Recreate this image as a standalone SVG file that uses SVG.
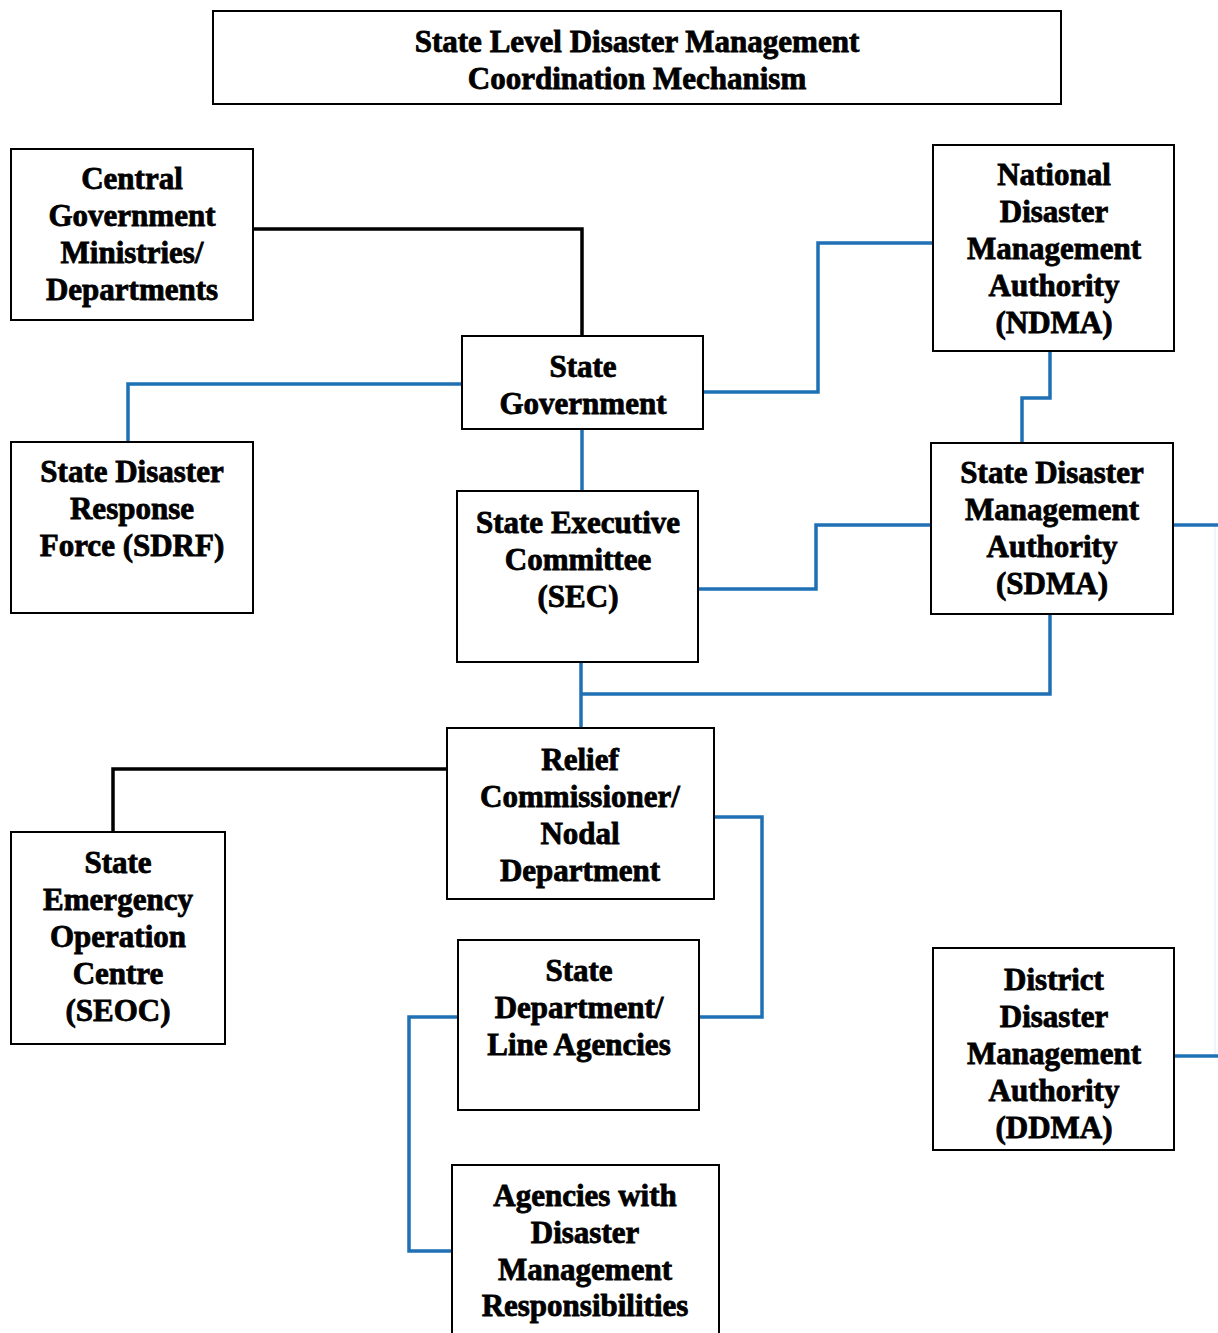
<svg xmlns="http://www.w3.org/2000/svg" width="1218" height="1333" viewBox="0 0 1218 1333">
<style>
.box{fill:#fff;stroke:#000;stroke-width:2}
.t{font-family:"Liberation Serif","Times New Roman",serif;font-weight:bold;font-size:31px;fill:#000;stroke:#000;stroke-width:0.8;text-anchor:middle}
.blue{fill:none;stroke:#1f70b5;stroke-width:3.5}
.black{fill:none;stroke:#000;stroke-width:3.5}
</style>
<rect width="1218" height="1333" fill="#fff"/>
<g id="connectors">
<path class="black" d="M253,229 H582 V336"/>
<path class="blue" d="M462,384 H128 V442"/>
<path class="blue" d="M703,392 H818 V243 H933"/>
<path class="blue" d="M582,429 V491"/>
<path class="blue" d="M1050,351 V398 H1022 V443"/>
<path class="blue" d="M698,589 H816 V525 H931"/>
<path class="blue" d="M581,662 V728"/>
<path class="blue" d="M581,694 H1050 V614"/>
<path class="blue" d="M1173,525 H1218"/>
<path class="blue" d="M1174,1056 H1218"/>
<path d="M1215,525 V1056" fill="none" stroke="#1f70b5" stroke-width="2" opacity="0.07"/>
<path class="black" d="M447,769 H113 V832"/>
<path class="blue" d="M714,817 H762 V1017 H699"/>
<path class="blue" d="M458,1017 H409 V1251 H452"/>
</g>
<g id="title">
<rect class="box" x="213" y="11" width="848" height="93"/>
<text class="t" x="637" y="52">State Level Disaster Management</text>
<text class="t" x="637" y="89">Coordination Mechanism</text>
</g>
<g id="central-gov">
<rect class="box" x="11" y="149" width="242" height="171"/>
<text class="t" x="132"><tspan x="132" y="189">Central</tspan><tspan x="132" y="226">Government</tspan><tspan x="132" y="263">Ministries/</tspan><tspan x="132" y="300">Departments</tspan></text>
</g>
<g id="ndma">
<rect class="box" x="933" y="145" width="241" height="206"/>
<text class="t"><tspan x="1054" y="185">National</tspan><tspan x="1054" y="222">Disaster</tspan><tspan x="1054" y="259">Management</tspan><tspan x="1054" y="296">Authority</tspan><tspan x="1054" y="333">(NDMA)</tspan></text>
</g>
<g id="state-gov">
<rect class="box" x="462" y="336" width="241" height="93"/>
<text class="t"><tspan x="583" y="377">State</tspan><tspan x="583" y="414">Government</tspan></text>
</g>
<g id="sdrf">
<rect class="box" x="11" y="442" width="242" height="171"/>
<text class="t"><tspan x="132" y="482">State Disaster</tspan><tspan x="132" y="519">Response</tspan><tspan x="132" y="556">Force (SDRF)</tspan></text>
</g>
<g id="sec">
<rect class="box" x="457" y="491" width="241" height="171"/>
<text class="t"><tspan x="578" y="533">State Executive</tspan><tspan x="578" y="570">Committee</tspan><tspan x="578" y="607">(SEC)</tspan></text>
</g>
<g id="sdma">
<rect class="box" x="931" y="443" width="242" height="171"/>
<text class="t"><tspan x="1052" y="483">State Disaster</tspan><tspan x="1052" y="520">Management</tspan><tspan x="1052" y="557">Authority</tspan><tspan x="1052" y="594">(SDMA)</tspan></text>
</g>
<g id="relief">
<rect class="box" x="447" y="728" width="267" height="171"/>
<text class="t"><tspan x="580" y="770">Relief</tspan><tspan x="580" y="807">Commissioner/</tspan><tspan x="580" y="844">Nodal</tspan><tspan x="580" y="881">Department</tspan></text>
</g>
<g id="seoc">
<rect class="box" x="11" y="832" width="214" height="212"/>
<text class="t"><tspan x="118" y="873">State</tspan><tspan x="118" y="910">Emergency</tspan><tspan x="118" y="947">Operation</tspan><tspan x="118" y="984">Centre</tspan><tspan x="118" y="1021">(SEOC)</tspan></text>
</g>
<g id="state-dept">
<rect class="box" x="458" y="940" width="241" height="170"/>
<text class="t"><tspan x="579" y="981">State</tspan><tspan x="579" y="1018">Department/</tspan><tspan x="579" y="1055">Line Agencies</tspan></text>
</g>
<g id="ddma">
<rect class="box" x="933" y="948" width="241" height="202"/>
<text class="t"><tspan x="1054" y="990">District</tspan><tspan x="1054" y="1027">Disaster</tspan><tspan x="1054" y="1064">Management</tspan><tspan x="1054" y="1101">Authority</tspan><tspan x="1054" y="1138">(DDMA)</tspan></text>
</g>
<g id="agencies">
<rect class="box" x="452" y="1165" width="267" height="180"/>
<text class="t"><tspan x="585" y="1206">Agencies with</tspan><tspan x="585" y="1243">Disaster</tspan><tspan x="585" y="1280">Management</tspan><tspan x="585" y="1316">Responsibilities</tspan></text>
</g>
</svg>
